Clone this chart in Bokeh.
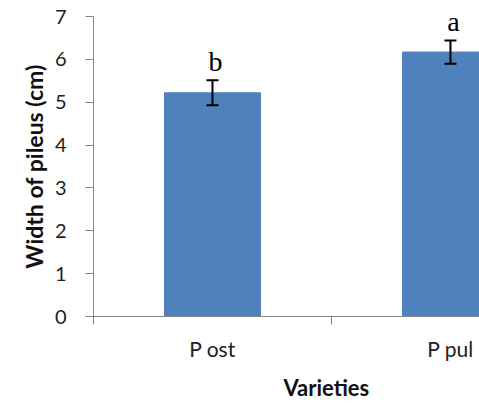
from bokeh.plotting import figure
from bokeh.models import Range1d, FixedTicker, Whisker, ColumnDataSource, Title, TeeHead
from bokeh.core.properties import value
from bokeh.embed import file_html
from bokeh.resources import INLINE

categories = ["P ost", "P pul"]
widths = [5.22, 6.17]
errors = [0.29, 0.27]
letters = ["b", "a"]
y_ticks = [0, 1, 2, 3, 4, 5, 6, 7]

xs = [i + 0.5 for i in range(len(categories))]
src = ColumnDataSource(dict(
    x=xs,
    top=widths,
    upper=[v + e for v, e in zip(widths, errors)],
    lower=[v - e for v, e in zip(widths, errors)],
    letter=letters,
))

p = figure(width=479, height=409, output_backend="svg", toolbar_location=None,
           x_range=Range1d(0, 1.622), y_range=Range1d(0, 7),
           min_border_left=93, min_border_right=0, min_border_top=16, min_border_bottom=91)
p.xgrid.visible = False
p.ygrid.visible = False
p.outline_line_color = None
p.background_fill_color = "white"
p.border_fill_color = "white"

p.vbar(x="x", top="top", bottom=0, width=0.403, source=src,
       fill_color="#4F81BD", line_color="#4F81BD")

w = Whisker(base="x", upper="upper", lower="lower", source=src,
            line_color="black", line_width=2, level="overlay",
            upper_head=TeeHead(size=12, line_width=2, line_color="black"),
            lower_head=TeeHead(size=12, line_width=2, line_color="black"))
p.add_layout(w)

p.text(x="x", y="upper", text="letter", source=src,
       text_font=value("Liberation Serif"), text_font_size="28px",
       text_align="center", text_baseline="alphabetic",
       x_offset=3, y_offset=-19, text_color="black")

grey = "#868686"
ya = p.yaxis[0]
ya.ticker = FixedTicker(ticks=y_ticks)
ya.major_tick_in = 0
ya.major_tick_out = 8
ya.minor_tick_in = 0
ya.minor_tick_out = 0
ya.axis_line_color = grey
ya.major_tick_line_color = grey
ya.major_label_text_font = "Lato"
ya.major_label_text_font_size = "20px"
ya.major_label_text_color = "#222222"
ya.major_label_standoff = 19
ya.axis_label = "Width of pileus (cm)"
ya.axis_label_text_font = "Lato"
ya.axis_label_text_font_style = "bold"
ya.axis_label_text_font_size = "23px"
ya.axis_label_text_color = "#111111"
ya.axis_label_standoff = 4

xa = p.xaxis[0]
xa.ticker = FixedTicker(ticks=xs, minor_ticks=[float(i) for i in range(len(categories) + 1)])
xa.major_tick_in = 0
xa.major_tick_out = 0
xa.major_tick_line_color = None
xa.minor_tick_in = 0
xa.minor_tick_out = 8
xa.minor_tick_line_color = grey
xa.axis_line_color = grey
xa.major_label_overrides = {x: c for x, c in zip(xs, categories)}
xa.major_label_text_font = "Lato"
xa.major_label_text_font_size = "21px"
xa.major_label_text_color = "#222222"
xa.major_label_standoff = 11

p.add_layout(Title(text="Varieties", align="left", offset=190, standoff=17,
                   text_font="Lato", text_font_style="bold",
                   text_font_size="22px", text_color="#111111"), "below")

open("out.html", "w").write(file_html(p, INLINE))
